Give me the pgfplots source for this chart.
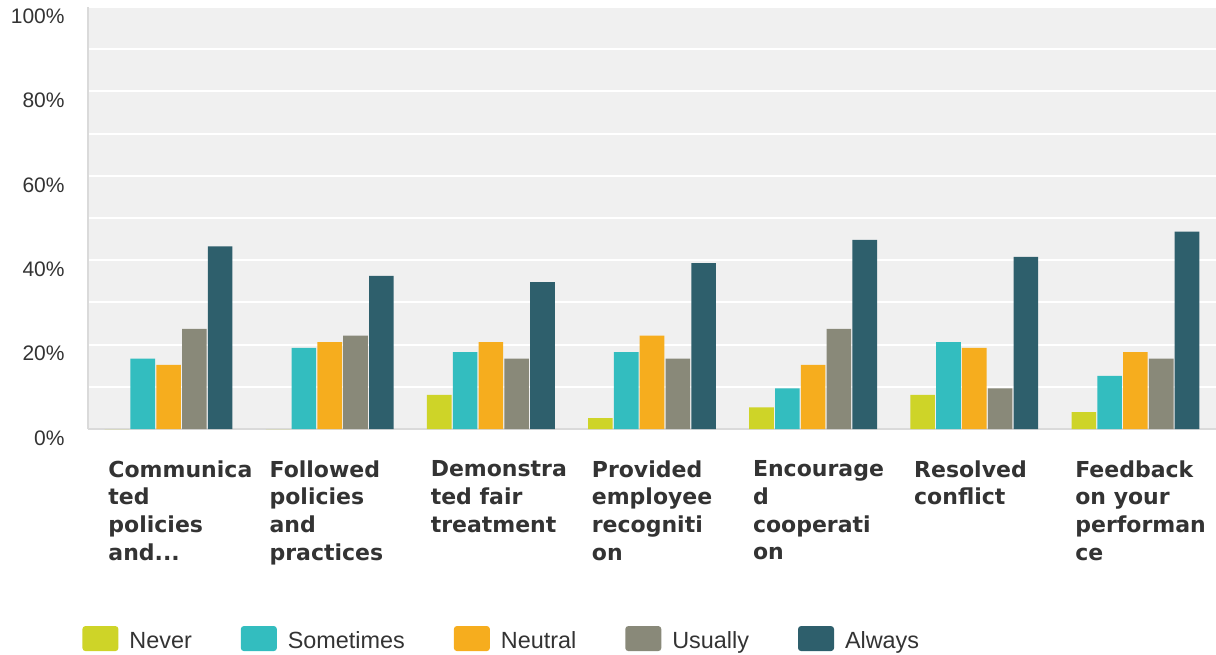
\documentclass[border=0pt]{standalone}
\usepackage{pgfplots}
\pgfplotsset{compat=1.18}
\usepackage{fontspec}
\setmainfont{Liberation Sans}
\newfontfamily\catfont{DejaVu Sans}
\definecolor{cNever}{RGB}{206,212,40}
\definecolor{cSometimes}{RGB}{51,189,191}
\definecolor{cNeutral}{RGB}{246,173,30}
\definecolor{cUsually}{RGB}{137,137,121}
\definecolor{cAlways}{RGB}{46,95,108}
\definecolor{plotbg}{RGB}{240,240,240}
\definecolor{axisgray}{RGB}{218,218,218}
\definecolor{txt}{RGB}{51,51,51}
\newcommand{\dotdotdot}{.\kern0pt.\kern0pt.}
\pgfplotsset{swatch/.style={legend image code/.code={\fill[##1, draw=none, rounded corners=1.5pt] (0pt,-4.6pt) rectangle (18pt,7.9pt);}}}
\begin{document}
\begin{tikzpicture}
\useasboundingbox (0,0) rectangle (608pt,327pt);
\begin{axis}[
  at={(44pt,112.5pt)}, anchor=south west,
  scale only axis, width=564pt, height=211pt,
  ymin=0, ymax=100, xmin=-0.5, xmax=6.5,
  ybar=0.6pt, bar width=12.3pt,
  axis background/.style={fill=plotbg},
  axis x line=bottom, axis y line=left,
  axis line style={-, draw=axisgray, line width=1.2pt},
  ytick={0,20,40,60,80,100}, minor ytick={10,30,50,70,90},
  yticklabels={0\%,20\%,40\%,60\%,80\%,100\%},
  ymajorgrids, yminorgrids,
  major grid style={white, line width=1pt},
  minor grid style={white, line width=1pt},
  major tick length=0pt, minor tick length=0pt,
  yticklabel style={anchor=east, inner sep=0pt, xshift=-11.5pt, yshift=-4.5pt, font=\fontsize{10.5}{12}\selectfont, text=txt},
  xtick={0,1,2,3,4,5,6},
  xticklabels={{Communica\\ted\\policies\\and\dotdotdot},{Followed\\policies\\and\\practices},{Demonstra\\ted fair\\treatment},{Provided\\employee\\recogniti\\on},{Encourage\\d\\cooperati\\on},{Resolved\\conflict},{Feedback\\on your\\performan\\ce}},
  xticklabel style={anchor=north west, align=left, inner sep=0pt, xshift=-30.25pt, yshift=-15.5pt, font=\catfont\bfseries\fontsize{11}{13.9}\selectfont, text=txt},
  legend style={at={(-0.0053,-0.4975)}, anchor=west, draw=none, fill=none, inner sep=0pt, legend columns=-1, legend cell align=left, font=\fontsize{11.7}{13}\selectfont, text=txt, nodes={inner sep=0pt}, /tikz/every odd column/.append style={column sep=5.5pt}, /tikz/every even column/.append style={column sep=24.5pt}},
]
\addplot[fill=cNever, draw=none, swatch] coordinates {(0,0) (1,0) (2,8.1) (3,2.6) (4,5.1) (5,8.1) (6,4.0)};
\addplot[fill=cSometimes, draw=none, swatch] coordinates {(0,16.7) (1,19.2) (2,18.2) (3,18.2) (4,9.6) (5,20.6) (6,12.6)};
\addplot[fill=cNeutral, draw=none, swatch] coordinates {(0,15.2) (1,20.6) (2,20.6) (3,22.1) (4,15.2) (5,19.2) (6,18.2)};
\addplot[fill=cUsually, draw=none, swatch] coordinates {(0,23.7) (1,22.1) (2,16.7) (3,16.7) (4,23.7) (5,9.6) (6,16.7)};
\addplot[fill=cAlways, draw=none, swatch] coordinates {(0,43.3) (1,36.3) (2,34.8) (3,39.3) (4,44.8) (5,40.8) (6,46.8)};
\legend{Never,Sometimes,Neutral,Usually,Always}
\end{axis}
\end{tikzpicture}
\end{document}
